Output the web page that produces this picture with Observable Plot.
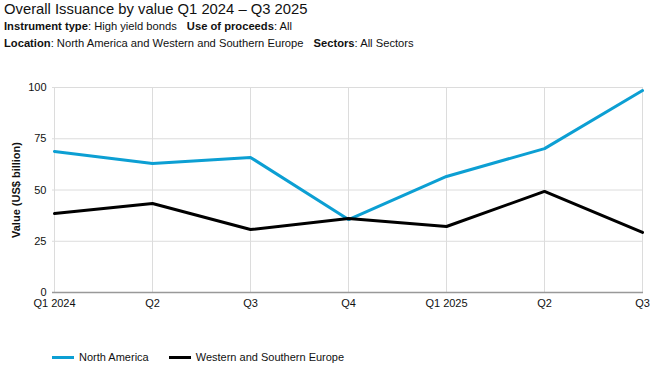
<!DOCTYPE html>
<html>
<head>
<meta charset="utf-8">
<script src="https://cdn.jsdelivr.net/npm/d3@7"></script>
<script src="https://cdn.jsdelivr.net/npm/@observablehq/plot@0.6"></script>
<style>
  body { margin: 0; background: #fff; font-family: "Liberation Sans", Arial, sans-serif; color: #111; }
  #head { height: 55px; padding-left: 4px; box-sizing: border-box; }
  #title { font-size: 14.8px; line-height: 17px; padding-top: 1px; }
  .sub { font-size: 11.2px; line-height: 17px; }
  .sub b { font-weight: bold; }
  .sp { display: inline-block; width: 10px; }
  #legend { font-size: 11px; display: flex; align-items: center; margin-top: 26px; padding-left: 52px; }
  .sw { display: inline-block; width: 22px; height: 3px; margin-right: 5px; }
  .item { display: flex; align-items: center; margin-right: 20px; }
</style>
</head>
<body>
<div id="head">
  <div id="title">Overall Issuance by value Q1 2024 – Q3 2025</div>
  <div class="sub"><b>Instrument type</b>: High yield bonds<span class="sp"></span><b>Use of proceeds</b>: All</div>
  <div class="sub"><b>Location</b>: North America and Western and Southern Europe<span class="sp"></span><b>Sectors</b>: All Sectors</div>
</div>
<div id="chart"></div>
<div id="legend"></div>
<script>
const quarters = ["Q1 2024", "Q2", "Q3", "Q4", "Q1 2025", "Q2 ", "Q3 "];
const seriesNames = ["North America", "Western and Southern Europe"];
const northAmerica = [68.8, 62.9, 65.9, 35.6, 56.6, 70.2, 98.5];
const westernSouthernEurope = [38.5, 43.4, 30.7, 36.1, 32.2, 49.3, 29.3];
const yTicks = [0, 25, 50, 75, 100];
const colors = ["#0c9fd3", "#000000"];

const data = [];
quarters.forEach((q, i) => {
  data.push({quarter: q, series: seriesNames[0], value: northAmerica[i]});
  data.push({quarter: q, series: seriesNames[1], value: westernSouthernEurope[i]});
});

const chart = Plot.plot({
  width: 658,
  height: 270,
  marginTop: 32,
  marginBottom: 33,
  marginLeft: 52,
  marginRight: 15,
  style: {fontFamily: '"Liberation Sans", Arial, sans-serif', fontSize: "11px", color: "#111"},
  x: {type: "point", domain: quarters, padding: 0},
  y: {domain: [0, 100]},
  color: {domain: seriesNames, range: colors},
  marks: [
    Plot.gridY(yTicks, {stroke: "#dcdcdc", strokeOpacity: 1}),
    Plot.gridX(quarters, {stroke: "#dcdcdc", strokeOpacity: 1}),
    Plot.ruleY([0], {stroke: "#999", strokeWidth: 1.5}),
    Plot.axisY(yTicks, {tickSize: 0, tickPadding: 6, label: "Value (US$ billion)", labelAnchor: "center", labelArrow: "none", labelOffset: 40, fontSize: 11}),
    Plot.axisX({tickSize: 0, tickPadding: 7, label: null, fontSize: 11, tickFormat: d => d.trim()}),
    Plot.line(data, {x: "quarter", y: "value", z: "series", stroke: "series", strokeWidth: 3, strokeLinejoin: "miter", curve: "linear"})
  ]
});
const lbl = chart.querySelector('[aria-label="y-axis label"]');
if (lbl) lbl.setAttribute("font-weight", "bold");
document.getElementById("chart").appendChild(chart);

const legend = document.getElementById("legend");
seriesNames.forEach((n, i) => {
  const it = document.createElement("span");
  it.className = "item";
  it.innerHTML = `<span class="sw" style="background:${colors[i]}"></span>${n}`;
  legend.appendChild(it);
});
</script>
</body>
</html>
